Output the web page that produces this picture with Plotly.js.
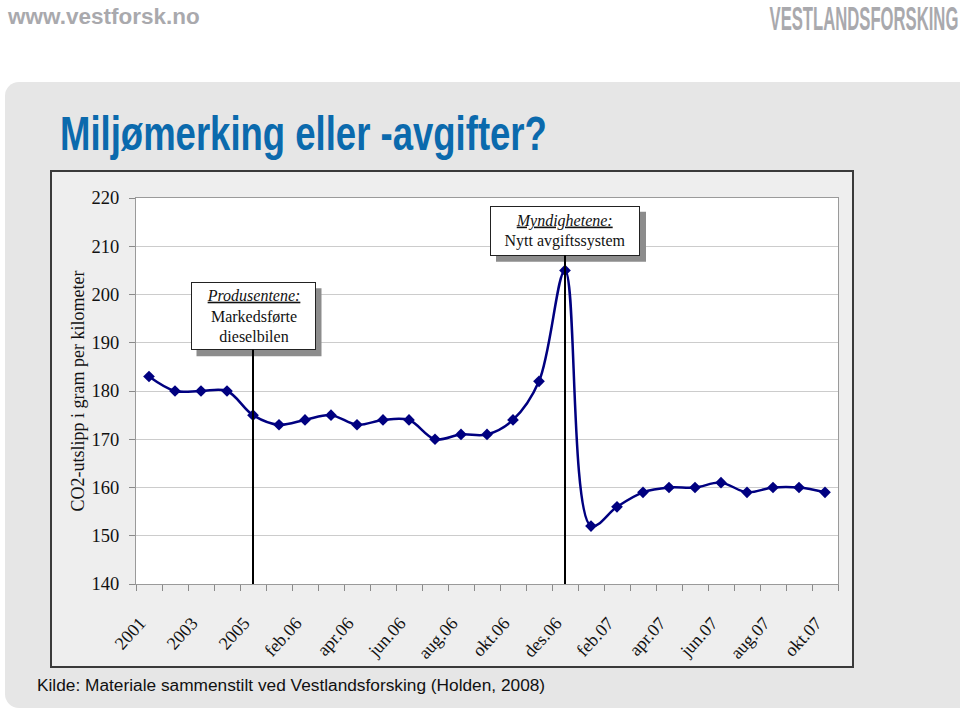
<!DOCTYPE html>
<html>
<head>
<meta charset="utf-8">
<script src="https://cdn.plot.ly/plotly-3.0.1.min.js"></script>
<style>
  html, body { margin: 0; padding: 0; width: 960px; height: 713px; overflow: hidden; background: #ffffff; }
  #slide { position: absolute; left: 5px; top: 82px; width: 955px; height: 626px; background: #e6e6e6; border-radius: 14px 0 0 14px; }
  #box { position: absolute; left: 50px; top: 170px; width: 800px; height: 494px; background: #eeeeee; border: 2px solid #3a3a3a; }
  #url { position: absolute; left: 8px; top: 4px; font-family: "Liberation Sans", Arial, sans-serif; font-weight: bold; font-size: 22.5px; color: #a9a9ad; }
  #brand { position: absolute; right: 2px; top: -1px; font-family: "Liberation Sans", sans-serif; font-weight: bold; font-size: 34px; color: #a9a9ad; transform: scaleX(0.49); transform-origin: right top; white-space: nowrap; }
  #title { position: absolute; left: 60px; top: 105px; font-family: "Liberation Sans", sans-serif; font-weight: bold; font-size: 49px; color: #0b6aad; white-space: nowrap; transform: scaleX(0.745); transform-origin: left top; }
  #src { position: absolute; left: 37px; top: 675px; font-family: "Liberation Sans", Arial, sans-serif; font-size: 17.3px; color: #111111; white-space: nowrap; }
  #chart { position: absolute; left: 0; top: 0; width: 960px; height: 713px; }
</style>
</head>
<body>
<div id="slide"></div>
<div id="box"></div>
<div id="url">www.vestforsk.no</div>
<div id="brand">VESTLANDSFORSKING</div>
<div id="title">Miljømerking eller -avgifter?</div>
<div id="src">Kilde: Materiale sammenstilt ved Vestlandsforsking (Holden, 2008)</div>
<div id="chart"></div>
<script>
// Categories (periods) and CO2 values (g/km)
const periods = ["2001","2002","2003","2004","2005",
  "jan.06","feb.06","mar.06","apr.06","mai.06","jun.06","jul.06","aug.06","sep.06","okt.06","nov.06","des.06",
  "jan.07","feb.07","mar.07","apr.07","mai.07","jun.07","jul.07","aug.07","sep.07","okt.07"];
const co2 = [183,180,180,180,175,
  173,174,175,173,174,174,170,171,171,174,182,205,
  152,156,159,160,160,161,159,160,160,159];
// Tick labels: every second period shown
const tickLabels = periods.map((p, i) => (i % 2 === 0 ? p : ""));
const yTicks = [140,150,160,170,180,190,200,210,220];

// Annotation texts
const note1 = { at: "2005", text: "<i><u>Produsentene:</u></i><br>Markedsførte<br>dieselbilen", level: 195.5, w: 123, h: 66 };
const note2 = { at: "des.06", text: "<i><u>Myndighetene:</u></i><br>Nytt avgiftssystem", level: 213.2, w: 148, h: 48 };

const serif = "Liberation Serif, Times New Roman, serif";

const trace = {
  type: "scatter", mode: "lines+markers",
  x: periods, y: co2,
  line: { color: "#000080", width: 2.5, shape: "spline", smoothing: 1 },
  marker: { symbol: "diamond", size: 9, color: "#000080" },
  hoverinfo: "x+y"
};
// same series on an overlaid axis, used only to carry the offset tick labels
const labelTrace = {
  type: "scatter", mode: "none", x: periods, y: co2, xaxis: "x2", yaxis: "y",
  hoverinfo: "skip", showlegend: false
};

function noteAnn(n) {
  const idx = periods.indexOf(n.at);
  return {
    x: idx, y: 140, xref: "x", yref: "y",
    ax: idx, ay: n.level, axref: "x", ayref: "y",
    text: n.text, align: "center", valign: "middle",
    width: n.w, height: n.h,
    font: { family: serif, size: 16, color: "#111111" },
    bgcolor: "#ffffff", bordercolor: "#222222", borderwidth: 1, borderpad: 0,
    showarrow: true, arrowhead: 0, arrowwidth: 2, arrowcolor: "#000000",
    standoff: 0, startstandoff: 0
  };
}
function noteShadow(n) {
  const idx = periods.indexOf(n.at);
  const hw = n.w / 2 + 1, hh = n.h / 2 + 1, off = 6;
  return {
    type: "rect", layer: "above",
    xref: "x", xsizemode: "pixel", xanchor: idx, x0: -hw + off, x1: hw + off,
    yref: "y", ysizemode: "pixel", yanchor: n.level, y0: -hh - off, y1: hh - off,
    fillcolor: "#8c8c8c", line: { width: 0 }
  };
}

const layout = {
  width: 960, height: 713,
  margin: { l: 136, r: 122, t: 198, b: 129, pad: 0 },
  paper_bgcolor: "rgba(0,0,0,0)",
  plot_bgcolor: "#ffffff",
  showlegend: false,
  xaxis: {
    type: "category",
    tickmode: "array", tickvals: periods, showticklabels: false,
    tickson: "boundaries", ticks: "outside", ticklen: 6, tickcolor: "#8a8a8a", tickwidth: 1,
    showgrid: false, showline: true, linecolor: "#9a9a9a", linewidth: 1, mirror: true,
    range: [-0.5, 26.5], zeroline: false, fixedrange: true
  },
  xaxis2: {
    type: "category", overlaying: "x", anchor: "y", side: "bottom",
    tickmode: "array", tickvals: periods, ticktext: tickLabels,
    ticks: "", tickangle: -48, tickfont: { family: serif, size: 18, color: "#111111" },
    ticklabelstandoff: 24, ticklabelshift: -9,
    showgrid: false, showline: false, zeroline: false,
    range: [-0.5, 26.5], fixedrange: true
  },
  yaxis: {
    range: [140, 220], tickmode: "array", tickvals: yTicks,
    ticks: "outside", ticklen: 6, tickcolor: "#8a8a8a", ticklabelstandoff: 6,
    tickfont: { family: serif, size: 18.5, color: "#111111" },
    showgrid: true, gridcolor: "#cccccc", gridwidth: 1,
    showline: true, linecolor: "#9a9a9a", linewidth: 1, mirror: true, zeroline: false,
    title: { text: "CO2-utslipp i gram per kilometer", font: { family: serif, size: 18, color: "#111111" }, standoff: 2 },
    fixedrange: true
  },
  shapes: [noteShadow(note1), noteShadow(note2)],
  annotations: [noteAnn(note1), noteAnn(note2)]
};

Plotly.newPlot("chart", [labelTrace, trace], layout, { displayModeBar: false, staticPlot: true });
</script>
</body>
</html>
